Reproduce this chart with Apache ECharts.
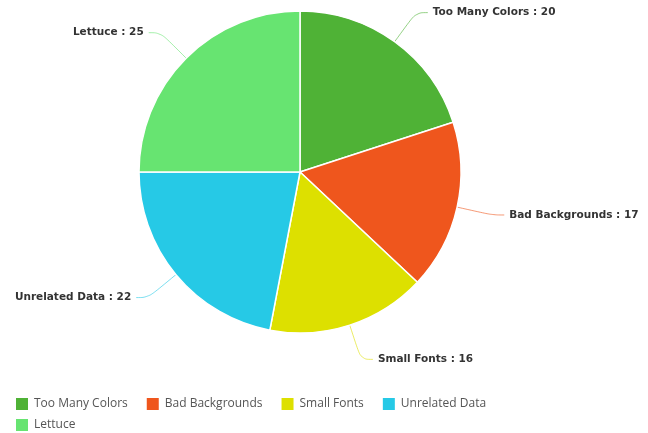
<!DOCTYPE html>
<html>
<head>
<meta charset="utf-8">
<script src="https://cdn.jsdelivr.net/npm/echarts@6/dist/echarts.min.js"></script>
<style>
  html, body { margin: 0; padding: 0; background: #fff; }
  #chart { width: 648px; height: 433px; }
</style>
</head>
<body>
<div id="chart"></div>
<script>
var categories = ["Too Many Colors", "Bad Backgrounds", "Small Fonts", "Unrelated Data", "Lettuce"];
var values = [20, 17, 16, 22, 25];
var colors = ["#4fb236", "#ef561d", "#dde000", "#26c9e6", "#67e471"];

var myChart = echarts.init(document.getElementById("chart"));

var pieData = [];
for (let i = 0; i < categories.length; i++) {
  pieData.push({ name: categories[i], value: values[i] });
}

// legend split in two rows like the original
var legendStyle = {
  icon: "rect",
  itemWidth: 14,
  itemHeight: 14,
  itemGap: 17,
  itemTextGap: 5,
  padding: 0,
  orient: "horizontal",
  textStyle: {
    fontFamily: "Open Sans",
    fontSize: 12,
    color: "#555"
  }
};

var option = {
  animation: false,
  color: colors,
  legend: [
    Object.assign({ data: categories.slice(0, 4), left: 14, top: 396 }, legendStyle),
    Object.assign({ data: categories.slice(4), left: 14, top: 417 }, legendStyle)
  ],
  series: [
    {
      type: "pie",
      center: [300, 172],
      radius: 161,
      startAngle: 90,
      clockwise: true,
      data: pieData,
      itemStyle: {
        borderColor: "#fff",
        borderWidth: 1.5
      },
      label: {
        show: true,
        formatter: "{b} : {c}",
        fontFamily: "DejaVu Sans",
        fontWeight: "bold",
        fontSize: 10.5,
        color: "#333",
        overflow: "none"
      },
      labelLine: {
        show: true,
        length: 36,
        length2: 12,
        smooth: 0.4,
        lineStyle: { width: 1, opacity: 0.6 }
      }
    }
  ]
};

myChart.setOption(option);
</script>
</body>
</html>
